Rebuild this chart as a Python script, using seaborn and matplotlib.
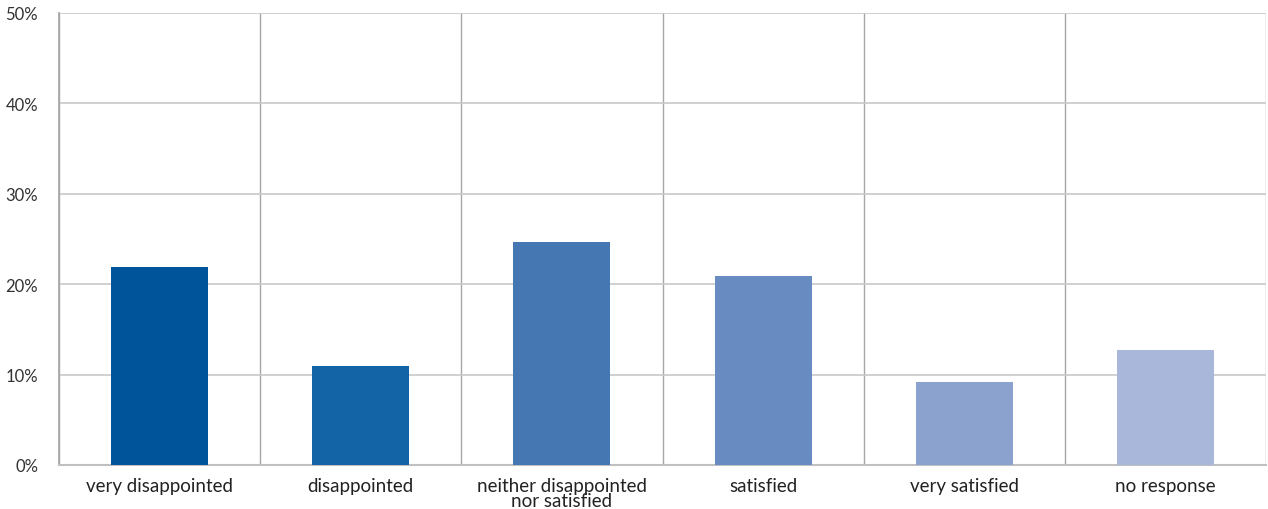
import matplotlib
matplotlib.use("Agg")
import matplotlib.pyplot as plt
import seaborn as sns
import pandas as pd
from matplotlib.ticker import FixedLocator, PercentFormatter

categories = ["very disappointed", "disappointed", "neither disappointed\nnor satisfied",
              "satisfied", "very satisfied", "no response"]
values = [21.9, 11.0, 24.7, 20.9, 9.2, 12.7]
colors = ["#00549A", "#1264A6", "#4577B2", "#688CC1", "#8AA2CD", "#A9B8DA"]
yticks = [0, 10, 20, 30, 40, 50]

sns.set_theme(style="white")
plt.rcParams["font.family"] = ["Lato", "DejaVu Sans"]

df = pd.DataFrame({"category": categories, "value": values})

fig = plt.figure(figsize=(12.68, 5.10), dpi=100)
ax = fig.add_axes([59/1268, 1-466/510, (1266-59)/1268, (466-14)/510])

sns.barplot(data=df, x="category", y="value", hue="category", palette=colors,
            width=0.483, legend=False, ax=ax, saturation=1, linewidth=0, zorder=3)

ax.set_xlim(-0.5, len(categories) - 0.5)
ax.set_ylim(0, 50)
ax.set_yticks(yticks)
ax.yaxis.set_major_formatter(PercentFormatter(decimals=0))
ax.xaxis.set_minor_locator(FixedLocator([i - 0.5 for i in range(len(categories) + 1)]))
ax.grid(axis="y", which="major", color="#c8c8c8", linewidth=1.2, zorder=0)
ax.grid(axis="x", which="minor", color="#a6a6a6", linewidth=1.0, zorder=0)
ax.set_axisbelow(True)
for s in ["top", "right"]:
    ax.spines[s].set_visible(False)
ax.spines["left"].set_color("#a6a6a6")
ax.spines["bottom"].set_color("#c0c0c0")
ax.spines["bottom"].set_linewidth(1.5)

ax.set_xlabel("")
ax.set_ylabel("")
ax.tick_params(axis="x", which="both", length=0, pad=9, labelsize=13.5, labelcolor="#222222")
ax.tick_params(axis="y", length=0, pad=15, labelsize=12, labelcolor="#333333")
for lab in ax.get_xticklabels():
    lab.set_linespacing(0.85)

fig.savefig("out.png", dpi=100)
